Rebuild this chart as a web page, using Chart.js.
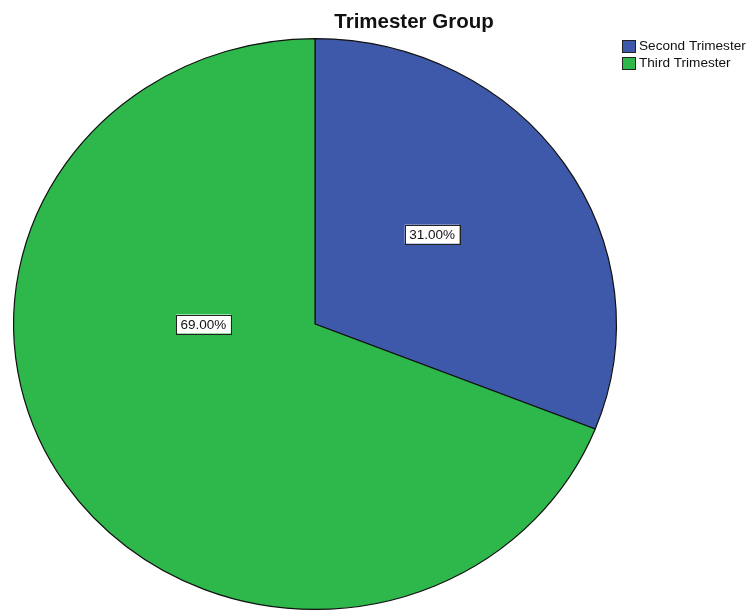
<!DOCTYPE html>
<html>
<head>
<meta charset="utf-8">
<script src="https://cdn.jsdelivr.net/npm/chart.js@4.4.1/dist/chart.umd.min.js"></script>
<style>
  html, body { margin: 0; padding: 0; overflow: hidden; background: #fff; }
  #wrap { width: 750px; height: 640px; position: relative; }
</style>
</head>
<body>
<div id="wrap"><canvas id="pieChart" width="750" height="640"></canvas></div>
<script>
const categories = ['Second Trimester', 'Third Trimester'];
const percents = [31.00, 69.00];
const colors = ['#3E58AA', '#2EB84B'];
const chartTitle = 'Trimester Group';

// squash the round pie into the slightly flat ellipse of the original
const ellipse = {
    id: 'ellipse',
    beforeDatasetsDraw(chart) {
        const arc = chart.getDatasetMeta(0).data[0];
        const ctx = chart.ctx;
        ctx.save();
        ctx.translate(arc.x, arc.y);
        ctx.scale(1, 0.947);
        ctx.translate(-arc.x, -arc.y);
    },
    afterDatasetsDraw(chart) {
        chart.ctx.restore();
    }
};

// percentage boxes, title and legend like SPSS output
const decorations = {
    id: 'decorations',
    afterDraw(chart, args, opts) {
        const ctx = chart.ctx;
        const meta = chart.getDatasetMeta(0);
        ctx.save();

        // slice labels
        ctx.font = '13.5px "Liberation Sans", Arial, sans-serif';
        ctx.textAlign = 'center';
        ctx.textBaseline = 'middle';
        meta.data.forEach((arc, i) => {
            const place = opts.labelPlaces[i];
            const mid = (arc.startAngle + arc.endAngle) / 2;
            const ang = place.angle !== null ? place.angle : mid;
            const x = arc.x + Math.cos(ang) * arc.outerRadius * place.frac;
            const y = arc.y + Math.sin(ang) * arc.outerRadius * 0.947 * place.frac;
            const txt = percents[i].toFixed(2) + '%';
            const w = ctx.measureText(txt).width + 9;
            const h = 19;
            ctx.fillStyle = '#fff';
            ctx.fillRect(x - w / 2, y - h / 2, w, h);
            ctx.strokeStyle = '#222';
            ctx.lineWidth = 1;
            ctx.strokeRect(Math.round(x - w / 2) + 0.5, Math.round(y - h / 2) + 0.5, Math.round(w), h);
            ctx.fillStyle = '#111';
            ctx.fillText(txt, x, y + 1);
        });

        // title
        ctx.font = 'bold 20.5px "Liberation Sans", Arial, sans-serif';
        ctx.fillStyle = '#111';
        ctx.textBaseline = 'alphabetic';
        ctx.fillText(chartTitle, 414, 28);

        // legend
        ctx.font = '13.6px "Liberation Sans", Arial, sans-serif';
        ctx.textAlign = 'left';
        ctx.textBaseline = 'middle';
        chart.data.labels.forEach((lab, i) => {
            const y = 40 + i * 17;
            ctx.fillStyle = colors[i];
            ctx.fillRect(622, y, 13, 12);
            ctx.strokeStyle = '#222';
            ctx.strokeRect(622.5, y + 0.5, 13, 12);
            ctx.fillStyle = '#111';
            ctx.fillText(lab, 639, y + 6.5);
        });
        ctx.restore();
    }
};

new Chart(document.getElementById('pieChart'), {
    type: 'pie',
    data: {
        labels: categories,
        datasets: [{
            data: percents,
            backgroundColor: colors,
            borderColor: '#111',
            borderWidth: 1.2
        }]
    },
    options: {
        responsive: false,
        animation: false,
        layout: { padding: { left: 13, right: 133, top: 22, bottom: 14 } },
        plugins: {
            legend: { display: false },
            tooltip: { enabled: false },
            title: { display: false },
            decorations: {
                labelPlaces: [
                    { angle: -39 * Math.PI / 180, frac: 0.5 },
                    { angle: Math.PI, frac: 0.37 }
                ]
            }
        }
    },
    plugins: [ellipse, decorations]
});
</script>
</body>
</html>
